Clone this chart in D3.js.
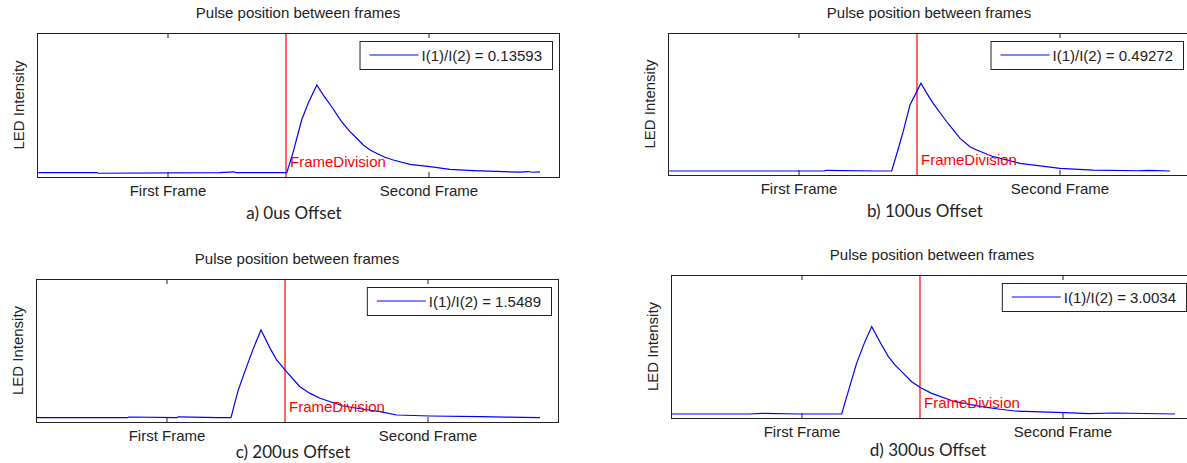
<!DOCTYPE html>
<html>
<head>
<meta charset="utf-8">
<script src="https://cdn.jsdelivr.net/npm/d3@7"></script>
<style>
  body { margin: 0; background: #fff; }
  svg { display: block; }
  .ml { font-family: "Liberation Sans", Arial, sans-serif; font-size: 15px; fill: #222; }
  .cap { font-family: Lato, "Open Sans", sans-serif; font-size: 17px; fill: #222; }
</style>
</head>
<body>
<svg width="1187" height="463"></svg>
<script>
// x values are time in us, frame length 1000 us; intensities are relative
const tickValues = [0, 1000];
const tickLabels = ["First Frame", "Second Frame"];
const frameDivision = 454;
const titleText = "Pulse position between frames";
const yLabel = "LED Intensity";

const timeA = [-495, -270, -266, 200, 255, 262, 350, 457, 482, 514, 539, 572, 597, 629, 667, 699, 725, 750, 776, 801, 833, 865, 929, 1006, 1082, 1172, 1287, 1350, 1380, 1400, 1427];
const ledA  = [0.030, 0.030, 0.026, 0.030, 0.036, 0.030, 0.030, 0.030, 0.176, 0.396, 0.512, 0.639, 0.569, 0.488, 0.384, 0.315, 0.269, 0.222, 0.188, 0.165, 0.137, 0.118, 0.088, 0.072, 0.053, 0.044, 0.037, 0.034, 0.038, 0.033, 0.036];

const timeB = [-495, -100, 100, 104, 300, 357, 380, 401, 427, 453, 469, 490, 516, 568, 593, 619, 657, 683, 746, 798, 849, 1002, 1130, 1300, 1340, 1423];
const ledB  = [0.028, 0.028, 0.028, 0.033, 0.028, 0.028, 0.171, 0.305, 0.493, 0.587, 0.646, 0.580, 0.505, 0.375, 0.317, 0.258, 0.199, 0.176, 0.129, 0.106, 0.082, 0.047, 0.035, 0.030, 0.033, 0.028];

const timeC = [-497, -150, -145, 40, 45, 200, 247, 275, 307, 333, 362, 397, 422, 454, 511, 550, 588, 677, 754, 818, 882, 1010, 1201, 1300, 1431];
const ledC  = [0.030, 0.030, 0.035, 0.030, 0.036, 0.030, 0.030, 0.224, 0.387, 0.515, 0.643, 0.515, 0.434, 0.364, 0.247, 0.200, 0.166, 0.112, 0.089, 0.072, 0.049, 0.042, 0.037, 0.034, 0.030];

const timeD = [-497, -200, -150, 0, 154, 179, 211, 243, 269, 307, 333, 358, 422, 460, 499, 588, 690, 754, 818, 1010, 1100, 1200, 1431];
const ledD  = [0.028, 0.028, 0.033, 0.028, 0.028, 0.184, 0.382, 0.534, 0.639, 0.510, 0.429, 0.371, 0.254, 0.208, 0.172, 0.114, 0.079, 0.063, 0.049, 0.037, 0.031, 0.035, 0.028];

const ratios = ["0.13593", "0.49272", "1.5489", "3.0034"];
const captions = ["a) 0us Offset", "b) 100us Offset", "c) 200us Offset", "d) 300us Offset"];

// panel boxes (plot area) and caption baselines
const panels = [
  {x: 37,  y: 33,  w: 522, h: 144, t: timeA, v: ledA, capY: 219},
  {x: 668, y: 33,  w: 522, h: 142, t: timeB, v: ledB, capY: 217},
  {x: 36,  y: 279, w: 522, h: 143, t: timeC, v: ledC, capY: 458},
  {x: 671, y: 275, w: 522, h: 143, t: timeD, v: ledD, capY: 456}
];

const svg = d3.select("svg");

panels.forEach((p, k) => {
  const g = svg.append("g");
  const x = d3.scaleLinear().domain([-500, 1500]).range([p.x, p.x + p.w]);
  const y = d3.scaleLinear().domain([0, 1]).range([p.y + p.h, p.y]);

  // title
  g.append("text").attr("class", "ml")
    .attr("x", p.x + p.w / 2).attr("y", p.y - 15)
    .attr("text-anchor", "middle").text(titleText);

  // y label
  g.append("text").attr("class", "ml")
    .attr("transform", "translate(" + (p.x - 13) + "," + (p.y + p.h / 2) + ") rotate(-90)")
    .attr("text-anchor", "middle").text(yLabel);

  // bottom axis with labels, ticks pointing inside
  const xAxis = d3.axisBottom(x).tickValues(tickValues)
    .tickFormat((d, i) => tickLabels[i])
    .tickSizeInner(-5).tickSizeOuter(0).tickPadding(8);
  const ax = g.append("g").attr("transform", "translate(0," + (p.y + p.h) + ")").call(xAxis);
  ax.select(".domain").remove();
  ax.selectAll("line").attr("stroke", "#222");
  ax.selectAll("text").attr("class", "ml").attr("fill", "#222");
  ax.attr("font-size", null).attr("font-family", null);

  const topAxis = d3.axisTop(x).tickValues(tickValues).tickFormat("")
    .tickSizeInner(-5).tickSizeOuter(0);
  const tx = g.append("g").attr("transform", "translate(0," + p.y + ")").call(topAxis);
  tx.select(".domain").remove();
  tx.selectAll("line").attr("stroke", "#222");

  // frame division line
  g.append("line")
    .attr("x1", x(frameDivision)).attr("x2", x(frameDivision))
    .attr("y1", y(0)).attr("y2", y(1))
    .attr("stroke", "#ff0000").attr("stroke-width", 1.2);

  // pulse curve
  const pts = p.t.map((d, i) => [d, p.v[i]]);
  g.append("path").datum(pts)
    .attr("fill", "none").attr("stroke", "#0000ff").attr("stroke-width", 1.2)
    .attr("d", d3.line().x(d => x(d[0])).y(d => y(d[1])));

  g.append("text").attr("class", "ml")
    .attr("x", x(frameDivision) + 4).attr("y", y(0.07))
    .style("fill", "#ff0000").text("FrameDivision");

  // box
  g.append("rect")
    .attr("x", p.x + 0.5).attr("y", p.y + 0.5).attr("width", p.w).attr("height", p.h)
    .attr("fill", "none").attr("stroke", "#222").attr("stroke-width", 1);

  // legend
  const lg = g.append("g");
  const lgRect = lg.append("rect");
  const lgText = lg.append("text").attr("class", "ml").text("I(1)/I(2) = " + ratios[k]);
  const tw = lgText.node().getComputedTextLength();
  const lw = 62 + tw + 10;
  const lx = p.x + p.w - 7 - lw;
  const ly = p.y + 8;
  lgRect.attr("x", lx + 0.5).attr("y", ly + 0.5).attr("width", lw).attr("height", 28)
    .attr("fill", "#fff").attr("stroke", "#222");
  lgText.attr("x", lx + 62).attr("y", ly + 20);
  lg.append("line")
    .attr("x1", lx + 10).attr("x2", lx + 59).attr("y1", ly + 14).attr("y2", ly + 14)
    .attr("stroke", "#0000ff").attr("stroke-width", 1.2);

  // caption under the panel
  g.append("text").attr("class", "cap")
    .attr("x", p.x + p.w / 2 - 4).attr("y", p.capY)
    .attr("text-anchor", "middle").text(captions[k]);
});
</script>
</body>
</html>
